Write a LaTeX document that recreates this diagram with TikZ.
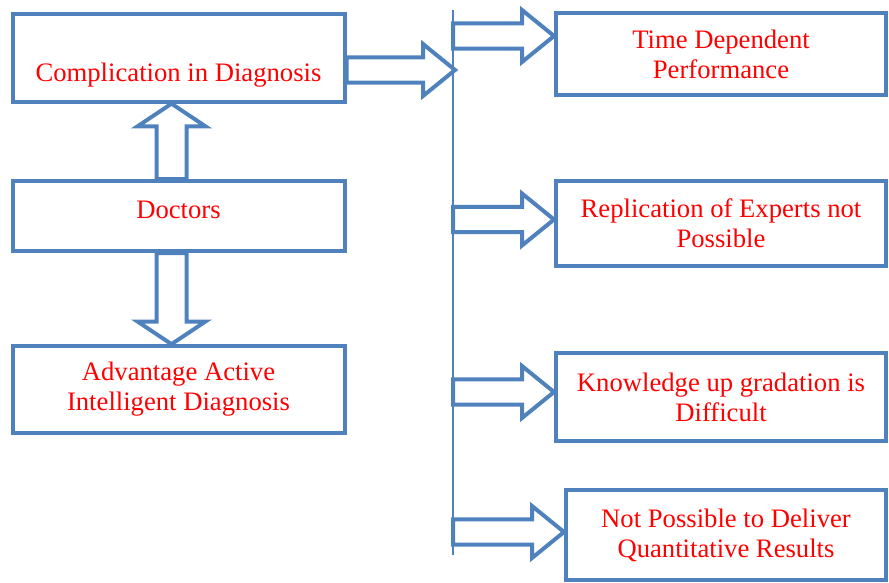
\documentclass[tikz,border=0pt]{standalone}
\usepackage{fontspec}
\setmainfont{Liberation Serif}
\usetikzlibrary{calc}
\definecolor{bleu}{RGB}{79,129,189}

\tikzset{
	boite/.style={draw=bleu, line width=3pt, text=red, align=center,
		minimum width=249pt, font=\fontsize{20}{22.5}\selectfont},
	fleche/.style={draw=bleu, line width=3pt},
}

% Flèche pleine horizontale : de x(#1) vers le point #2
\newcommand{\flecheH}[2]{%
	\draw[fleche] let \p1=(#1), \p2=(#2) in
	(\x1,{\y2+9.4pt}) -- ({\x2-24pt},{\y2+9.4pt}) -- ({\x2-24pt},{\y2+19.5pt}) -- (\x2,\y2)
	-- ({\x2-24pt},{\y2-19.5pt}) -- ({\x2-24pt},{\y2-9.4pt}) -- (\x1,{\y2-9.4pt}) -- cycle;}

% Flèche pleine verticale : de y(#1) vers le point #2
\newcommand{\flecheV}[2]{%
	\draw[fleche] let \p1=(#1), \p2=(#2), \n1={ifthenelse(\y1>\y2,1,-1)} in
	({\x2-11.25pt},\y1) -- ({\x2-11.25pt},{\y2+\n1*17pt}) -- ({\x2-25.5pt},{\y2+\n1*17pt}) -- (\x2,\y2)
	-- ({\x2+25.5pt},{\y2+\n1*17pt}) -- ({\x2+11.25pt},{\y2+\n1*17pt}) -- ({\x2+11.25pt},\y1) -- cycle;}

\begin{document}
\begin{tikzpicture}[x=0.75pt, y=-0.75pt]
	\useasboundingbox (0,0) rectangle (889,582);
	
	% Boîtes de gauche
	\node[boite, minimum height=65.5pt, text height=39pt, text depth=4.4pt] (comp) at (178.5,58) {Complication in Diagnosis};
	\node[boite, minimum height=52.5pt, text depth=9pt] (doc) at (178.5,216) {Doctors};
	\node[boite, minimum height=65pt] (adv) at (178.5,389.5) {Advantage Active\\Intelligent Diagnosis};
	
	% Boîtes de droite
	\node[boite, minimum width=247.5pt, minimum height=61.5pt] (t1) at (721,54) {Time Dependent\\Performance};
	\node[boite, minimum width=247.5pt, minimum height=63.75pt] (t2) at (721,223.5) {Replication of Experts not\\Possible};
	\node[boite, minimum width=247.5pt, minimum height=66pt] (t3) at (721,397) {Knowledge up gradation is\\Difficult};
	\node[boite, minimum width=240pt, minimum height=67.5pt] (t4) at (726,535) {Not Possible to Deliver\\Quantitative Results};
	
	% Trait vertical
	\coordinate (haut) at (453,10);
	\coordinate (bas) at (453,555);
	\draw[bleu, line width=1.5pt] (haut) -- (bas);
	
	% Flèches verticales
	\flecheV{doc.north}{$(comp.south)+(-7,0)$}
	\flecheV{doc.south}{$(adv.north)+(-7,0)$}
	
	% Flèches horizontales
	\flecheH{comp.east}{$(comp.east -| haut)+(2,12)$}
	\foreach \b/\dy in {t1/-18,t2/-4,t3/-5,t4/-3}
	{
		\flecheH{haut}{$(\b.west)+(0,\dy)$}
	}
\end{tikzpicture}
\end{document}
